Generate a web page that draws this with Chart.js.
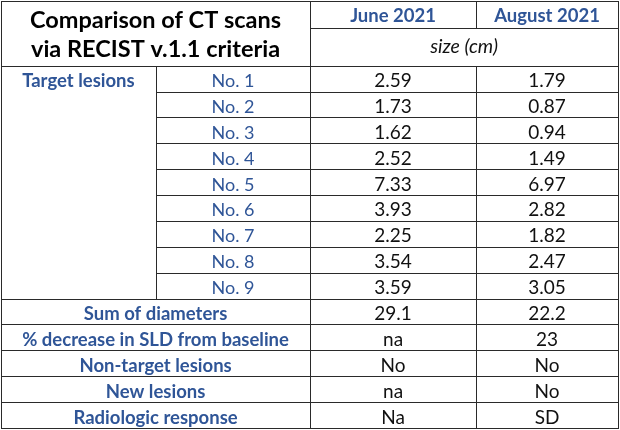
<!DOCTYPE html>
<html>
<head>
<meta charset="utf-8">
<script src="https://cdn.jsdelivr.net/npm/chart.js@4.4.0/dist/chart.umd.min.js"></script>
<style>
  html, body { margin: 0; padding: 0; background: #fff; }
  #wrap { width: 620px; height: 430px; }
</style>
</head>
<body>
<div id="wrap"><canvas id="recist"></canvas></div>
<script>
const titleLines = ['Comparison of CT scans', 'via RECIST v.1.1 criteria'];
const scanDates = ['June 2021', 'August 2021'];
const unitLabel = 'size (cm)';
const groupLabel = 'Target lesions';
const lesionLabels = ['No. 1', 'No. 2', 'No. 3', 'No. 4', 'No. 5', 'No. 6', 'No. 7', 'No. 8', 'No. 9'];
const juneSizes = [2.59, 1.73, 1.62, 2.52, 7.33, 3.93, 2.25, 3.54, 3.59];
const augustSizes = [1.79, 0.87, 0.94, 1.49, 6.97, 2.82, 1.82, 2.47, 3.05];
const summaryLabels = ['Sum of diameters', '% decrease in SLD from baseline', 'Non-target lesions', 'New lesions', 'Radiologic response'];
const summaryJune = ['29.1', 'na', 'No', 'na', 'Na'];
const summaryAugust = ['22.2', '23', 'No', 'No', 'SD'];

const BLUE = '#2f5597';
const LINE = '#2a2a2a';
const FONT = 'Lato, "Open Sans", sans-serif';

// column edges in % of table width, row units on the y scale
const colEdges = [0, 25.1, 50.1, 77, 100];
const headerSplit = 1.06;
const headerBottom = 2.5;
const totalRows = headerBottom + lesionLabels.length + summaryLabels.length;

const tablePlugin = {
    id: 'table',
    afterDraw(chart) {
        const { ctx, scales: { x, y } } = chart;
        const px = v => Math.round(x.getPixelForValue(v)) + 0.5;
        const py = v => Math.round(y.getPixelForValue(v)) + 0.5;

        const hLine = (yv, x0, x1) => {
            ctx.beginPath();
            ctx.moveTo(px(x0) - 0.5, py(yv));
            ctx.lineTo(px(x1) + 0.5, py(yv));
            ctx.stroke();
        };
        const vLine = (xv, y0, y1) => {
            ctx.beginPath();
            ctx.moveTo(px(xv), py(y0) - 0.5);
            ctx.lineTo(px(xv), py(y1) + 0.5);
            ctx.stroke();
        };
        const text = (str, c0, c1, rowBottom, lift, font, color) => {
            ctx.font = font;
            ctx.fillStyle = color;
            ctx.textAlign = 'center';
            ctx.textBaseline = 'alphabetic';
            const cx = (x.getPixelForValue(colEdges[c0]) + x.getPixelForValue(colEdges[c1])) / 2;
            ctx.fillText(str, cx, y.getPixelForValue(rowBottom) - lift);
        };

        ctx.save();
        ctx.strokeStyle = LINE;
        ctx.lineWidth = 1;

        const lesionEnd = headerBottom + lesionLabels.length;

        // horizontal rules
        hLine(0, 0, 100);
        hLine(headerSplit, colEdges[2], 100);
        hLine(headerBottom, 0, 100);
        for (let i = 1; i < lesionLabels.length; i++) hLine(headerBottom + i, colEdges[1], 100);
        for (let i = 0; i <= summaryLabels.length; i++) hLine(lesionEnd + i, 0, 100);

        // vertical rules
        vLine(0, 0, totalRows);
        vLine(100, 0, totalRows);
        vLine(colEdges[2], 0, totalRows);
        vLine(colEdges[1], headerBottom, lesionEnd);
        vLine(colEdges[3], 0, headerSplit);
        vLine(colEdges[3], headerBottom, totalRows);

        // header
        text(titleLines[0], 0, 2, headerSplit, 0.3, `bold 23.5px ${FONT}`, '#000');
        text(titleLines[1], 0, 2, headerBottom, 9, `bold 23.5px ${FONT}`, '#000');
        scanDates.forEach((d, i) => text(d, 2 + i, 3 + i, headerSplit, 6.5, `bold 18.5px ${FONT}`, BLUE));
        text(unitLabel, 2, 4, headerBottom, 12.5, `italic 19.5px ${FONT}`, '#111');

        // target lesions
        text(groupLabel, 0, 1, headerBottom + 1, 4.5, `bold 18.5px ${FONT}`, BLUE);
        lesionLabels.forEach((lab, i) => {
            const rb = headerBottom + i + 1;
            text(lab, 1, 2, rb, 4.5, `18px ${FONT}`, BLUE);
            text(juneSizes[i].toFixed(2), 2, 3, rb, 4.5, `19px ${FONT}`, '#111');
            text(augustSizes[i].toFixed(2), 3, 4, rb, 4.5, `19px ${FONT}`, '#111');
        });

        // summary rows
        summaryLabels.forEach((lab, i) => {
            const rb = lesionEnd + i + 1;
            text(lab, 0, 2, rb, 4.5, `bold 18.5px ${FONT}`, BLUE);
            text(summaryJune[i], 2, 3, rb, 4.5, `19px ${FONT}`, '#111');
            text(summaryAugust[i], 3, 4, rb, 4.5, `19px ${FONT}`, '#111');
        });

        ctx.restore();
    }
};

new Chart(document.getElementById('recist'), {
    type: 'scatter',
    data: { datasets: [] },
    options: {
        responsive: true,
        maintainAspectRatio: false,
        animation: false,
        layout: { padding: { left: 1, top: 1, right: 2, bottom: 2 } },
        scales: {
            x: { type: 'linear', min: 0, max: 100, display: false },
            y: { type: 'linear', min: 0, max: totalRows, reverse: true, display: false }
        },
        plugins: { legend: { display: false }, tooltip: { enabled: false } }
    },
    plugins: [tablePlugin]
});
</script>
</body>
</html>
